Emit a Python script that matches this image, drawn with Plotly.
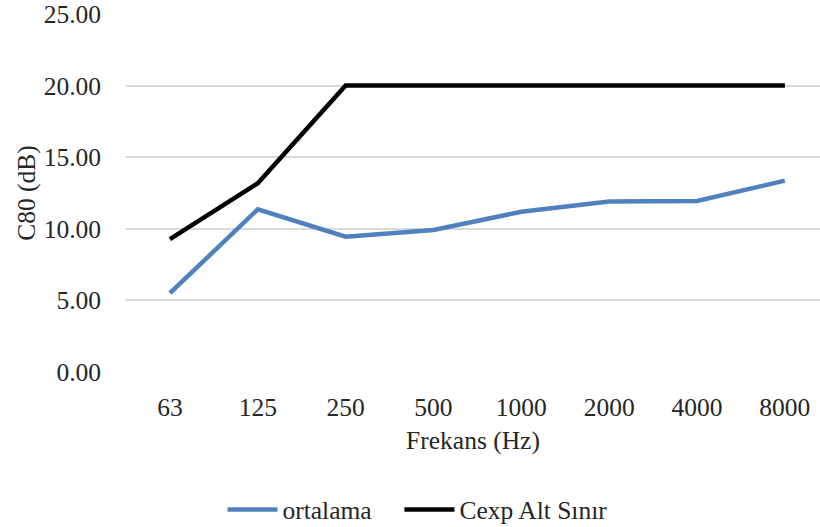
import plotly.graph_objects as go

# Octave-band centre frequencies (Hz)
frequencies = ["63", "125", "250", "500", "1000", "2000", "4000", "8000"]

# Measured mean C80 values (dB)
ortalama = [5.50, 11.36, 9.45, 9.92, 11.19, 11.90, 11.95, 13.36]

# Lower limit for C80 (dB)
cexp_alt_sinir = [9.28, 13.18, 20.0, 20.0, 20.0, 20.0, 20.0, 20.0]

y_ticks = [0, 5, 10, 15, 20, 25]

font_family = "Liberation Serif"
text_color = "#262626"
font_size = 25.5

fig = go.Figure()
fig.add_trace(go.Scatter(
    x=frequencies, y=ortalama, name="ortalama", mode="lines",
    line=dict(color="#4f81bd", width=4.5), legend="legend",
))
fig.add_trace(go.Scatter(
    x=frequencies, y=cexp_alt_sinir, name="Cexp Alt Sınır", mode="lines",
    line=dict(color="#000000", width=4.5), legend="legend2",
))

base_font = dict(family=font_family, size=font_size, color=text_color)
legend_style = dict(
    orientation="h", xanchor="left", y=-0.385, yanchor="middle",
    font=base_font, itemwidth=50, bgcolor="rgba(0,0,0,0)",
)

fig.update_layout(
    width=820, height=527,
    margin=dict(l=126, r=0, t=14, b=155, autoexpand=False),
    paper_bgcolor="white", plot_bgcolor="white",
    font=base_font,
    showlegend=True,
    legend=dict(x=0.139, **legend_style),
    legend2=dict(x=0.394, **legend_style),
    xaxis=dict(
        type="category", range=[-0.5, 7.40], automargin=False,
        showgrid=False, zeroline=False, showline=False, ticks="",
        ticklabelstandoff=17, tickfont=base_font, ticklabeloverflow="allow",
        title=dict(text="Frekans (Hz)", standoff=10, font=base_font),
    ),
    yaxis=dict(
        range=[0, 25], tickvals=y_ticks, tickformat=".2f", automargin=False,
        showgrid=True, gridcolor="#d9d9d9", gridwidth=1.5,
        zeroline=False, showline=False, ticks="",
        ticklabelstandoff=24, tickfont=base_font, ticklabeloverflow="allow",
        title=dict(text="C80 (dB)", standoff=0, font=base_font),
    ),
)

fig.write_html("out.html")
